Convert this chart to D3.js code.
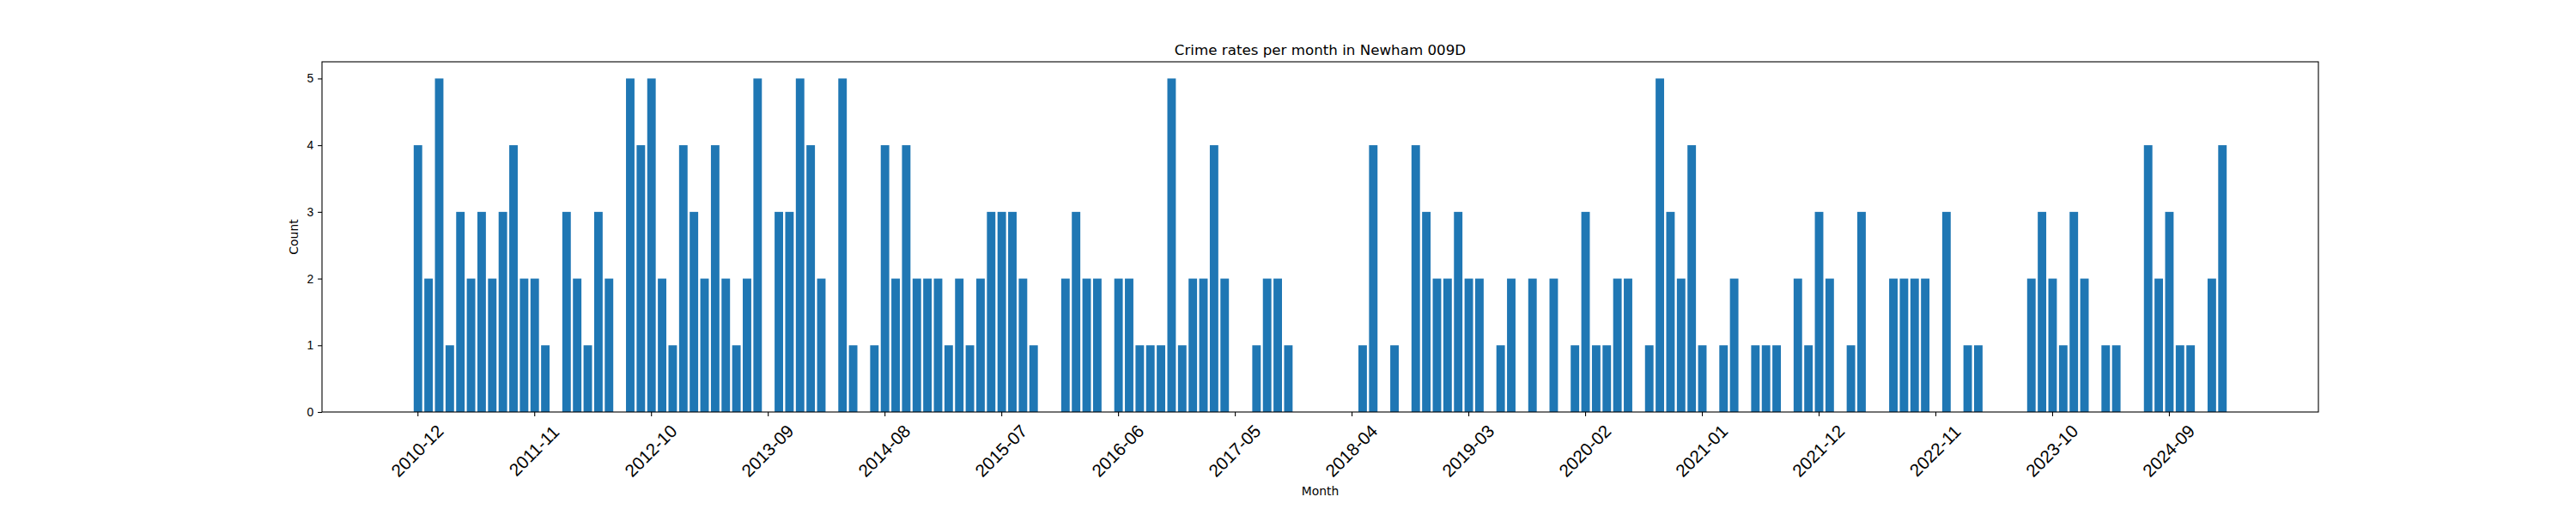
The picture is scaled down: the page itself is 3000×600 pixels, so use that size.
<!DOCTYPE html>
<html>
<head>
<meta charset="utf-8">
<script src="https://cdn.jsdelivr.net/npm/d3@7"></script>
<style>
  html, body { margin: 0; padding: 0; background: #fff; }
  svg { display: block; font-family: "DejaVu Sans", sans-serif; }
</style>
</head>
<body>
<svg id="chart" width="3000" height="600" viewBox="0 0 3000 600"></svg>
<script>
// monthly counts, first month 2010-12, last 2025-02
const firstMonth = "2010-12";
const lastMonth = "2025-02";
const counts = [
    4, 2, 5, 1, 3, 2, 3, 2, 3, 4, 2, 2, 1, 0, 3, 2, 1, 3, 2, 0,
    5, 4, 5, 2, 1, 4, 3, 2, 4, 2, 1, 2, 5, 0, 3, 3, 5, 4, 2, 0,
    5, 1, 0, 1, 4, 2, 4, 2, 2, 2, 1, 2, 1, 2, 3, 3, 3, 2, 1, 0,
    0, 2, 3, 2, 2, 0, 2, 2, 1, 1, 1, 5, 1, 2, 2, 4, 2, 0, 0, 1,
    2, 2, 1, 0, 0, 0, 0, 0, 0, 1, 4, 0, 1, 0, 4, 3, 2, 2, 3, 2,
    2, 0, 1, 2, 0, 2, 0, 2, 0, 1, 3, 1, 1, 2, 2, 0, 1, 5, 3, 2,
    4, 1, 0, 1, 2, 0, 1, 1, 1, 0, 2, 1, 3, 2, 0, 1, 3, 0, 0, 2,
    2, 2, 2, 0, 3, 0, 1, 1, 0, 0, 0, 0, 2, 3, 2, 1, 3, 2, 0, 1,
    1, 0, 0, 4, 2, 3, 1, 1, 0, 2, 4
];
const tickLabels = [
    "2010-12", "2011-11", "2012-10", "2013-09", "2014-08", "2015-07",
    "2016-06", "2017-05", "2018-04", "2019-03", "2020-02", "2021-01",
    "2021-12", "2022-11", "2023-10", "2024-09"
];
const yTicks = [0, 1, 2, 3, 4, 5];

const parseMonth = d3.utcParse("%Y-%m");
const fmtMonth = d3.utcFormat("%Y-%m");
const months = d3.utcMonth.range(parseMonth(firstMonth), d3.utcMonth.offset(parseMonth(lastMonth), 1)).map(fmtMonth);
const data = months.map((m, i) => ({ month: m, count: counts[i] }));

const svg = d3.select("#chart");
const plotLeft = 375, plotRight = 2700, plotTop = 72, plotBottom = 480;

// matplotlib style: bar width 0.8, 5% margins on each side
const x = d3.scaleBand()
    .domain(months)
    .range([plotLeft, plotRight])
    .paddingInner(0.2)
    .paddingOuter(0.05 * (months.length - 0.2) + 0.1);

const y = d3.scaleLinear()
    .domain([0, 5 * 1.05])
    .range([plotBottom, plotTop]);

// bars
svg.append("g")
    .selectAll("rect")
    .data(data)
    .enter()
    .append("rect")
    .attr("x", d => x(d.month))
    .attr("width", x.bandwidth())
    .attr("y", d => y(d.count))
    .attr("height", d => plotBottom - y(d.count))
    .attr("fill", "#1f77b4");

// x axis
const xAxis = svg.append("g")
    .attr("transform", `translate(0,${plotBottom})`)
    .call(d3.axisBottom(x).tickValues(tickLabels).tickSize(4.9).tickSizeOuter(0));
xAxis.select(".domain").remove();
xAxis.selectAll(".tick line").attr("stroke", "#000").attr("stroke-width", 1.1);
xAxis.selectAll(".tick text")
    .attr("y", 0)
    .attr("dy", null)
    .attr("fill", "#000")
    .attr("font-size", "20.6px")
    .attr("text-anchor", "middle")
    .attr("dominant-baseline", "central")
    .attr("transform", "translate(-1,45) rotate(-45)");

// y axis
const yAxis = svg.append("g")
    .attr("transform", `translate(${plotLeft},0)`)
    .call(d3.axisLeft(y).tickValues(yTicks).tickFormat(d3.format("d")).tickSize(4.9).tickPadding(4.9).tickSizeOuter(0));
yAxis.select(".domain").remove();
yAxis.selectAll(".tick line").attr("stroke", "#000").attr("stroke-width", 1.1);
yAxis.selectAll(".tick text")
    .attr("fill", "#000")
    .attr("font-size", "13.9px");

// frame
svg.append("rect")
    .attr("x", plotLeft)
    .attr("y", plotTop)
    .attr("width", plotRight - plotLeft)
    .attr("height", plotBottom - plotTop)
    .attr("fill", "none")
    .attr("stroke", "#000")
    .attr("stroke-width", 1.1);

// title and labels
svg.append("text")
    .attr("x", (plotLeft + plotRight) / 2)
    .attr("y", 63.5)
    .attr("text-anchor", "middle")
    .attr("font-size", "16.7px")
    .attr("fill", "#000")
    .text("Crime rates per month in Newham 009D");

svg.append("text")
    .attr("x", (plotLeft + plotRight) / 2)
    .attr("y", 577)
    .attr("text-anchor", "middle")
    .attr("font-size", "13.9px")
    .attr("fill", "#000")
    .text("Month");

svg.append("text")
    .attr("transform", `translate(346.5,${(plotTop + plotBottom) / 2}) rotate(-90)`)
    .attr("text-anchor", "middle")
    .attr("font-size", "13.9px")
    .attr("fill", "#000")
    .text("Count");
</script>
</body>
</html>
